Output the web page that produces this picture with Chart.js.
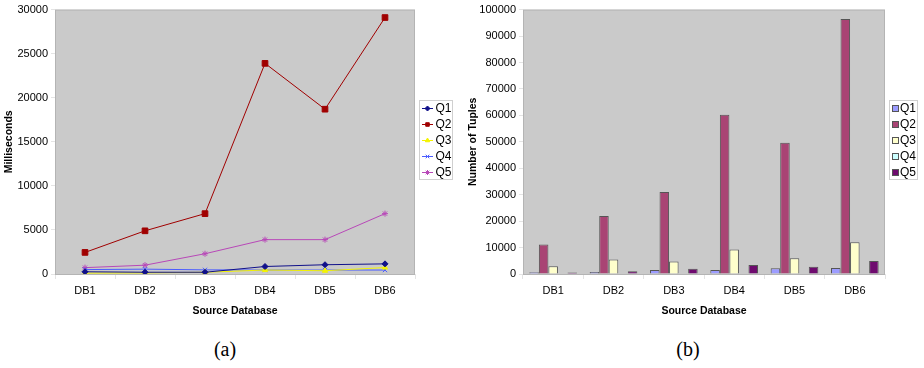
<!DOCTYPE html>
<html>
<head>
<meta charset="utf-8">
<script src="https://cdn.jsdelivr.net/npm/chart.js@4"></script>
<style>
  body { margin: 0; background: #fff; width: 924px; height: 368px; position: relative; overflow: hidden; }
  .box { position: absolute; top: 0; }
  .cap { position: absolute; top: 338px; font-family: "Liberation Serif", "DejaVu Serif", serif; font-size: 20px; width: 60px; text-align: center; }
</style>
</head>
<body>
<div class="box" style="left:0"><canvas id="timeChart" width="460" height="320"></canvas></div>
<div class="box" style="left:460px"><canvas id="tupleChart" width="464" height="320"></canvas></div>
<div class="cap" style="left:195px">(a)</div>
<div class="cap" style="left:658px">(b)</div>
<script>
const categories = ['DB1', 'DB2', 'DB3', 'DB4', 'DB5', 'DB6'];
const queries = ['Q1', 'Q2', 'Q3', 'Q4', 'Q5'];

// (a) execution time, milliseconds
const timeQ1 = [250, 200, 200, 850, 1050, 1150];
const timeQ2 = [2450, 4900, 6850, 23900, 18700, 29100];
const timeQ3 = [100, 120, 200, 450, 370, 730];
const timeQ4 = [500, 550, 470, 450, 450, 450];
const timeQ5 = [720, 1000, 2300, 3900, 3900, 6850];

// (b) result size, number of tuples
const tupleQ1 = [700, 800, 1500, 1500, 2200, 2300];
const tupleQ2 = [11200, 21900, 31000, 60200, 49600, 96400];
const tupleQ3 = [2900, 5500, 4700, 9300, 5950, 12000];
const tupleQ4 = [0, 0, 0, 0, 0, 0];
const tupleQ5 = [550, 1000, 2000, 3400, 2700, 4900];

const timeTicks = { max: 30000, step: 5000 };
const tupleTicks = { max: 100000, step: 10000 };

const FONT = '"Liberation Sans", Arial, sans-serif';
const tickFont = { family: FONT, size: 11 };
const titleFont = { family: FONT, size: 10.5, weight: 'bold' };

const lineColors = ['#10108a', '#a00000', '#f4f400', '#4a5cff', '#b848b8'];
const lineMarkers = ['rectRot', 'rect', 'triangle', 'crossRot', 'star'];
const barColors = ['#9c9cff', '#a94474', '#ffffcc', '#ccffff', '#6e0a6e'];

// grey plot area with a thin frame
const plotBg = {
  id: 'plotBg',
  beforeDraw(chart) {
    const { ctx, chartArea: a } = chart;
    ctx.save();
    ctx.fillStyle = '#cacaca';
    ctx.fillRect(a.left, a.top, a.right - a.left, a.bottom - a.top);
    ctx.restore();
  },
  afterDraw(chart) {
    const { ctx, chartArea: a } = chart;
    ctx.save();
    ctx.strokeStyle = '#b4b4b4';
    ctx.lineWidth = 1;
    ctx.strokeRect(a.left + 0.5, a.top + 0.5, a.right - a.left - 1, a.bottom - a.top);
    ctx.restore();
  }
};

// boxed legend at the right, like the spreadsheet one
const boxLegend = {
  id: 'boxLegend',
  afterDraw(chart, args, opts) {
    const { ctx } = chart;
    const left = chart.chartArea.right + opts.gap;
    const top = 100, w = opts.width, h = 80, row = 16;
    ctx.save();
    ctx.fillStyle = '#fff';
    ctx.fillRect(left, top, w, h);
    ctx.strokeStyle = '#d0d0d0';
    ctx.strokeRect(left + 0.5, top + 0.5, w - 1, h - 1);
    ctx.font = '12px ' + FONT;
    ctx.textBaseline = 'middle';
    chart.data.datasets.forEach((ds, i) => {
      const y = top + 8.5 + i * row;
      if (opts.kind === 'line') {
        ctx.strokeStyle = ds.borderColor;
        ctx.lineWidth = 1;
        ctx.beginPath();
        ctx.moveTo(left + 3, y);
        ctx.lineTo(left + 14, y);
        ctx.stroke();
        ctx.fillStyle = ds.pointBackgroundColor;
        ctx.strokeStyle = ds.pointBorderColor;
        Chart.helpers.drawPoint(ctx, {
          pointStyle: ds.pointStyle, radius: 2.5, rotation: 0, borderWidth: 1
        }, left + 8.5, y);
        ctx.fillStyle = '#000';
        ctx.fillText(ds.label, left + 16.5, y + 0.5);
      } else {
        ctx.fillStyle = ds.backgroundColor;
        ctx.fillRect(left + 3.5, y - 3, 6, 6);
        ctx.strokeStyle = '#555';
        ctx.strokeRect(left + 3.5, y - 3, 6, 6);
        ctx.fillStyle = '#000';
        ctx.fillText(ds.label, left + 11, y + 0.5);
      }
    });
    ctx.restore();
  }
};

function axes(yTitle, ticks, yWidth, titlePad) {
  return {
    x: {
      offset: true,
      afterFit(s) { s.height = 46; },
      grid: { offset: true, drawOnChartArea: false, drawTicks: true, tickLength: 5, color: '#e4e4e4' },
      border: { display: false },
      ticks: { font: tickFont, color: '#000', padding: 5, maxRotation: 0 },
      title: { display: true, text: 'Source Database', font: titleFont, color: '#000', padding: { top: 0, bottom: 3 } }
    },
    y: {
      min: 0, max: ticks.max,
      afterFit(s) { s.width = yWidth; },
      grid: { drawOnChartArea: false, drawTicks: true, tickLength: 4, color: '#e4e4e4' },
      border: { display: false },
      ticks: { stepSize: ticks.step, font: tickFont, color: '#000', padding: 3, callback: v => String(v) },
      title: { display: true, text: yTitle, font: titleFont, color: '#000', padding: { top: titlePad, bottom: 0 } }
    }
  };
}

const timeSeries = [timeQ1, timeQ2, timeQ3, timeQ4, timeQ5];
new Chart(document.getElementById('timeChart'), {
  type: 'line',
  data: {
    labels: categories,
    datasets: queries.map((q, i) => ({
      label: q,
      data: timeSeries[i],
      borderColor: lineColors[i],
      borderWidth: 1,
      pointStyle: lineMarkers[i],
      pointRadius: i === 1 ? 4 : 3,
      pointBackgroundColor: lineColors[i],
      pointBorderColor: lineColors[i],
      pointBorderWidth: 1,
      tension: 0
    }))
  },
  options: {
    responsive: false,
    animation: false,
    layout: { padding: { top: 5, right: 45, bottom: 0, left: 0 } },
    plugins: {
      legend: { display: false },
      tooltip: { enabled: false },
      boxLegend: { kind: 'line', gap: 4, width: 34 }
    },
    scales: axes('Milliseconds', timeTicks, 55, 3)
  },
  plugins: [plotBg, boxLegend]
});

const tupleSeries = [tupleQ1, tupleQ2, tupleQ3, tupleQ4, tupleQ5];
new Chart(document.getElementById('tupleChart'), {
  type: 'bar',
  data: {
    labels: categories,
    datasets: queries.map((q, i) => ({
      label: q,
      data: tupleSeries[i],
      backgroundColor: barColors[i],
      borderColor: '#555',
      borderWidth: 1,
      barPercentage: 1,
      categoryPercentage: 0.79
    }))
  },
  options: {
    responsive: false,
    animation: false,
    layout: { padding: { top: 5, right: 39, bottom: 0, left: 0 } },
    plugins: {
      legend: { display: false },
      tooltip: { enabled: false },
      boxLegend: { kind: 'bar', gap: 4, width: 29 }
    },
    scales: axes('Number of Tuples', tupleTicks, 63, 7)
  },
  plugins: [plotBg, boxLegend]
});
</script>
</body>
</html>
